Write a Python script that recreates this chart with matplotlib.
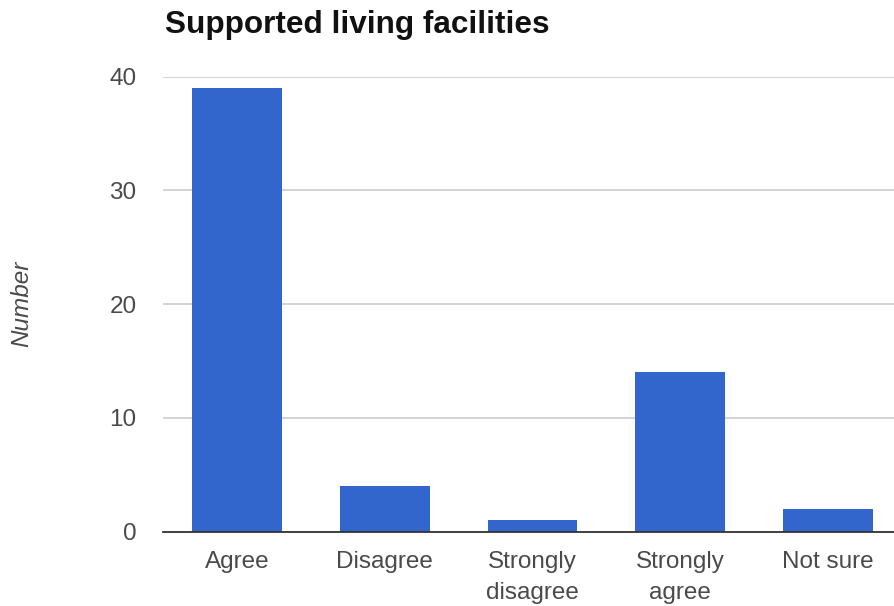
import matplotlib
matplotlib.use("Agg")
import matplotlib.pyplot as plt

categories = ["Agree", "Disagree", "Strongly\ndisagree", "Strongly\nagree", "Not sure"]
counts = [39, 4, 1, 14, 2]
yticks = [0, 10, 20, 30, 40]

BAR = "#3366cc"
TXT = "#4a4a4a"

plt.rcParams["font.family"] = ["Liberation Sans", "DejaVu Sans"]

fig = plt.figure(figsize=(8.95, 6.06), dpi=100)
# plot area runs slightly past the right edge, as in the original screenshot
ax = fig.add_axes([163 / 895, 74.3 / 606, 739 / 895, 455 / 606])

x = range(len(categories))
ax.bar(x, counts, width=0.607, color=BAR, zorder=3)

ax.set_xlim(-0.5, len(categories) - 0.5)
ax.set_ylim(0, 40)
ax.set_yticks(yticks)
ax.set_xticks(list(x))
ax.set_xticklabels(categories, fontsize=17.5, color=TXT, linespacing=1.55)
ax.tick_params(axis="y", length=0, pad=19, labelsize=17.5, labelcolor=TXT)
ax.tick_params(axis="x", length=0, pad=14)

ax.grid(axis="y", color="#cccccc", linewidth=1.2, zorder=0)
for side in ("top", "right", "left"):
    ax.spines[side].set_visible(False)
ax.spines["bottom"].set_color("#333333")
ax.spines["bottom"].set_linewidth(1.3)
ax.spines["bottom"].set_zorder(4)

fig.text(165 / 895, 1 - 25 / 606, "Supported living facilities", fontsize=22.7,
         fontweight="bold", color="#111111", va="center", ha="left")
fig.text(22 / 895, 1 - 304 / 606, "Number", fontsize=17.5, style="italic",
         color=TXT, rotation=90, va="center", ha="center")

fig.savefig("out.png", dpi=100)
